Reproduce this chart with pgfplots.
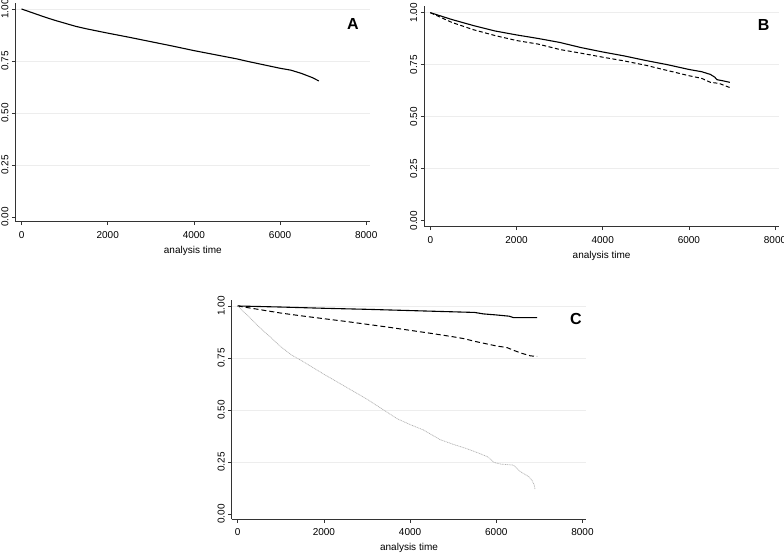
\documentclass[border=0pt]{standalone}
\usepackage{fontspec}
\setmainfont{Liberation Sans}
\usepackage{pgfplots}
\pgfplotsset{compat=1.18}

\pgfplotsset{
 kmaxis/.style={
  x=0.0430875pt, y=208pt,
  xmin=-140, xmax=8090, ymax=1.03,
  axis x line=bottom, axis y line=left,
  axis line style={-, black!80, line width=0.8pt},
  ytick={0.25,0.5,0.75,1}, extra y ticks={0},
  extra y tick style={grid=none},
  ymajorgrids, grid style={gray!14, line width=0.9pt},
  xtick={0,2000,4000,6000,8000},
  tick align=outside, major tick length=3.5pt,
  tick style={black!80, line width=0.6pt},
  /pgf/number format/assume math mode=true,
  tick label style={font=\fontsize{10}{12}\selectfont},
  yticklabel style={rotate=90, anchor=south, /pgf/number format/fixed, /pgf/number format/precision=2, /pgf/number format/fixed zerofill},
  xticklabel style={yshift=-2.5pt, /pgf/number format/1000 sep={}},
  xlabel={analysis time},
  xlabel style={font=\fontsize{10}{12}\selectfont, yshift=-0.8pt},
  clip=false,
 },
 solidkm/.style={black, line width=1.1pt, line join=round},
}

\pgfplotstableread{
x y
0 1.0
250 0.982
500 0.964
750 0.947
1000 0.932
1250 0.917
1500 0.905
2000 0.884
2500 0.864
3000 0.843
3500 0.822
4000 0.800
4500 0.780
5000 0.760
5250 0.748
5500 0.737
5750 0.726
6000 0.715
6250 0.706
6500 0.690
6750 0.670
6900 0.654
}\tabA

\pgfplotstableread{
x y
0 1.0
500 0.967
1000 0.938
1500 0.912
2000 0.893
2500 0.876
3000 0.857
3500 0.832
4000 0.811
4500 0.792
5000 0.770
5500 0.750
6000 0.727
6300 0.716
6500 0.703
6600 0.690
6650 0.678
6800 0.672
6950 0.665
}\tabBone

\pgfplotstableread{
x y
0 1.0
500 0.953
1000 0.918
1500 0.890
2000 0.866
2500 0.849
3000 0.823
3500 0.805
4000 0.786
4500 0.768
5000 0.747
5500 0.722
6000 0.697
6300 0.684
6500 0.665
6700 0.660
6800 0.652
6950 0.640
}\tabBtwo

\pgfplotstableread{
x y
0 1.0
1000 0.995
2000 0.989
3000 0.984
4000 0.978
5000 0.972
5500 0.969
5700 0.962
6000 0.957
6300 0.951
6400 0.944
6950 0.944
}\tabCone

\pgfplotstableread{
x y
0 1.0
500 0.983
1000 0.966
1500 0.952
2000 0.939
2500 0.926
3000 0.912
3500 0.898
4000 0.883
4500 0.868
5000 0.852
5250 0.843
5500 0.830
6000 0.808
6250 0.800
6400 0.787
6600 0.772
6800 0.760
6950 0.758
}\tabCtwo

\pgfplotstableread{
x y
0 1.0
250 0.95
500 0.898
750 0.852
1000 0.804
1250 0.764
1500 0.735
2000 0.672
2500 0.612
3000 0.552
3350 0.505
3700 0.458
4000 0.430
4300 0.405
4700 0.357
5000 0.335
5300 0.315
5600 0.292
5800 0.275
5950 0.248
6100 0.240
6400 0.235
6550 0.205
6750 0.180
6820 0.165
6880 0.140
6900 0.118
}\tabCthree

\begin{document}
\begin{tikzpicture}
\path[use as bounding box] (0,0) rectangle (784pt,552pt);

% Panel A
\begin{axis}[kmaxis, at={(15.5pt,330.3pt)}, anchor=south west, ymin=-0.0226]
\addplot[solidkm] table[x=x,y=y] {\tabA};
\node[font=\bfseries\fontsize{16}{16}\selectfont] at (axis cs:7689,0.928) {A};
\end{axis}

% Panel B
\begin{axis}[kmaxis, at={(424.3pt,325.3pt)}, anchor=south west, ymin=-0.029]
\addplot[solidkm] table[x=x,y=y] {\tabBone};
\addplot[black, line width=1pt, dash pattern=on 4pt off 2.5pt] table[x=x,y=y] {\tabBtwo};
\node[font=\bfseries\fontsize{16}{16}\selectfont] at (axis cs:7737,0.941) {B};
\end{axis}

% Panel C
\begin{axis}[kmaxis, at={(231.7pt,32.7pt)}, anchor=south west, ymin=-0.0255]
\addplot[solidkm] table[x=x,y=y] {\tabCone};
\addplot[black, line width=1pt, dash pattern=on 5pt off 3pt] table[x=x,y=y] {\tabCtwo};
\addplot[gray!60, line width=0.7pt, dash pattern=on 1pt off 0.7pt] table[x=x,y=y] {\tabCthree};
\node[font=\bfseries\fontsize{16}{16}\selectfont] at (axis cs:7846,0.936) {C};
\end{axis}
\end{tikzpicture}
\end{document}
